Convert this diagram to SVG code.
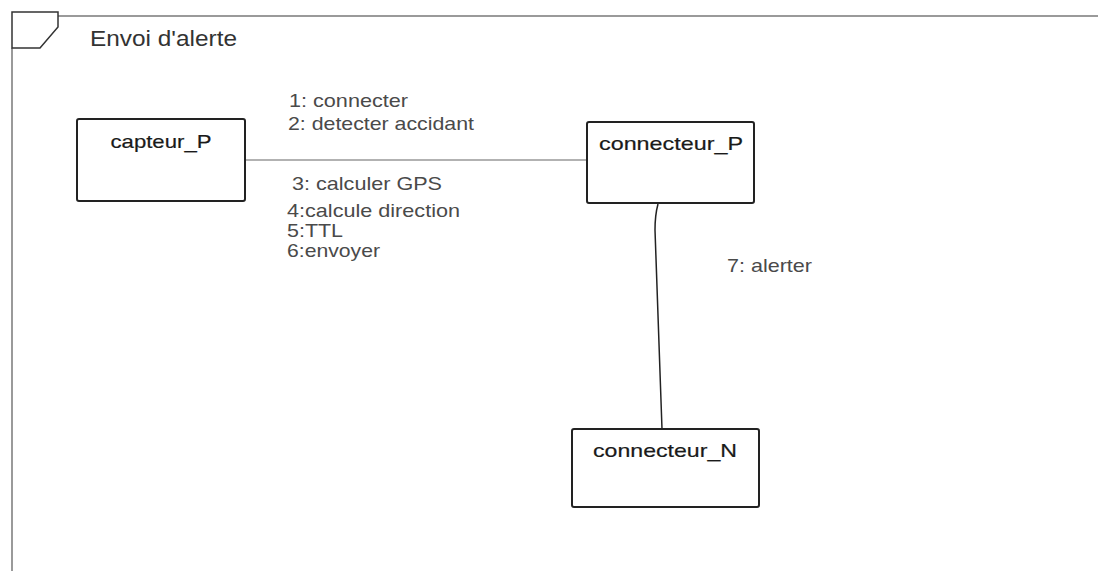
<svg xmlns="http://www.w3.org/2000/svg" width="1098" height="571" viewBox="0 0 1098 571">
<style>
.frame{fill:none;stroke:#9a9a9a;stroke-width:2}
.tab{fill:none;stroke:#333;stroke-width:1.5}
.node{fill:#fff;stroke:#222;stroke-width:2}
.nl{font-family:"Liberation Sans",Arial,sans-serif;font-size:19px;fill:#1a1a1a;stroke:#1a1a1a;stroke-width:0.2;text-anchor:middle}
.lbl{font-family:"Liberation Sans",Arial,sans-serif;font-size:18.5px;fill:#4a4a4a}
.title{font-family:"Liberation Sans",Arial,sans-serif;font-size:21.5px;fill:#333}
.conn{fill:none;stroke-width:1.5}
</style>
<rect width="1098" height="571" fill="#fff"/>
<g id="frame">
<path class="frame" d="M58 16 H1098 M12 48 V571"/>
<path class="tab" d="M12 48 V12 H58 V27 L40 48 Z"/>
<text class="title" x="90" y="46" textLength="147" lengthAdjust="spacingAndGlyphs">Envoi d'alerte</text>
</g>
<g id="connectors">
<line class="conn" x1="245" y1="160" x2="587" y2="160" stroke="#999"/>
<path class="conn" d="M658 204 Q655 215 655 230 L662 429" stroke="#222"/>
</g>
<g id="labels">
<text class="lbl" x="289" y="107" textLength="119" lengthAdjust="spacingAndGlyphs">1: connecter</text>
<text class="lbl" x="288" y="130" textLength="186" lengthAdjust="spacingAndGlyphs">2: detecter accidant</text>
<text class="lbl" x="292" y="190" textLength="150" lengthAdjust="spacingAndGlyphs">3: calculer GPS</text>
<text class="lbl" x="287" y="217" textLength="173" lengthAdjust="spacingAndGlyphs">4:calcule direction</text>
<text class="lbl" x="287" y="237" textLength="56" lengthAdjust="spacingAndGlyphs">5:TTL</text>
<text class="lbl" x="287" y="257" textLength="93" lengthAdjust="spacingAndGlyphs">6:envoyer</text>
<text class="lbl" x="727" y="272" textLength="85" lengthAdjust="spacingAndGlyphs">7: alerter</text>
</g>
<g id="capteur_P">
<rect class="node" x="77" y="119" width="168" height="82" rx="2"/>
<text class="nl" x="161" y="148" textLength="101" lengthAdjust="spacingAndGlyphs">capteur_P</text>
</g>
<g id="connecteur_P">
<rect class="node" x="587" y="122" width="167" height="81" rx="2"/>
<text class="nl" x="671" y="150" textLength="144" lengthAdjust="spacingAndGlyphs">connecteur_P</text>
</g>
<g id="connecteur_N">
<rect class="node" x="572" y="429" width="187" height="78" rx="2"/>
<text class="nl" x="665" y="457" textLength="144" lengthAdjust="spacingAndGlyphs">connecteur_N</text>
</g>
</svg>
